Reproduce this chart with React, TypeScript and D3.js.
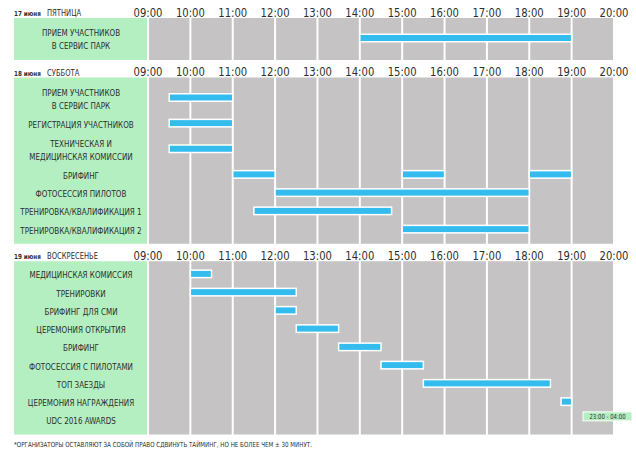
import React from "react";
import * as d3 from "d3";

const hourTicks = [9, 10, 11, 12, 13, 14, 15, 16, 17, 18, 19, 20];
const tickLabels = ["09:00", "10:00", "11:00", "12:00", "13:00", "14:00", "15:00", "16:00", "17:00", "18:00", "19:00", "20:00"];

const sectionDates = ["17 июня", "18 июня", "19 июня"];
const sectionDays = ["ПЯТНИЦА", "СУББОТА", "ВОСКРЕСЕНЬЕ"];

const fridayEvents = ["ПРИЕМ УЧАСТНИКОВ|В СЕРВИС ПАРК"];
const fridaySlots: [number, number, number][] = [[0, 14, 19]];

const saturdayEvents = [
  "ПРИЕМ УЧАСТНИКОВ|В СЕРВИС ПАРК",
  "РЕГИСТРАЦИЯ УЧАСТНИКОВ",
  "ТЕХНИЧЕСКАЯ И|МЕДИЦИНСКАЯ КОМИССИИ",
  "БРИФИНГ",
  "ФОТОСЕССИЯ ПИЛОТОВ",
  "ТРЕНИРОВКА/КВАЛИФИКАЦИЯ 1",
  "ТРЕНИРОВКА/КВАЛИФИКАЦИЯ 2",
];
const saturdaySlots: [number, number, number][] = [
  [0, 9.5, 11],
  [1, 9.5, 11],
  [2, 9.5, 11],
  [3, 11, 12],
  [3, 15, 16],
  [3, 18, 19],
  [4, 12, 18],
  [5, 11.5, 14.75],
  [6, 15, 18],
];

const sundayEvents = [
  "МЕДИЦИНСКАЯ КОМИССИЯ",
  "ТРЕНИРОВКИ",
  "БРИФИНГ ДЛЯ СМИ",
  "ЦЕРЕМОНИЯ ОТКРЫТИЯ",
  "БРИФИНГ",
  "ФОТОСЕССИЯ С ПИЛОТАМИ",
  "ТОП ЗАЕЗДЫ",
  "ЦЕРЕМОНИЯ НАГРАЖДЕНИЯ",
  "UDC 2016 AWARDS",
];
const sundaySlots: [number, number, number][] = [
  [0, 10, 10.5],
  [1, 10, 12.5],
  [2, 12, 12.5],
  [3, 12.5, 13.5],
  [4, 13.5, 14.5],
  [5, 14.5, 15.5],
  [6, 15.5, 18.5],
  [7, 18.75, 19],
];

const awardsRow = 8;
const awardsTime = "23:00 - 04:00";
const footnote = "*ОРГАНИЗАТОРЫ ОСТАВЛЯЮТ ЗА СОБОЙ ПРАВО СДВИНУТЬ ТАЙМИНГ, НО НЕ БОЛЕЕ ЧЕМ ± 30 МИНУТ.";

const W = 636;
const H = 453;
const FONT = "'DejaVu Sans Condensed', 'Liberation Sans Narrow', sans-serif";
const GREEN = "#b3efc0";
const GRAY = "#c5c3c4";
const BLUE = "#35bcee";
const TEXT = "#2e2e2e";

const ROW1 = 18.25;
const ROW2 = 33;
const PAD = 4.5;
const GAP = 17.5;
const PANEL_X = 14;
const SX = 0.84;

const sections = [
  { events: fridayEvents, slots: fridaySlots },
  { events: saturdayEvents, slots: saturdaySlots },
  { events: sundayEvents, slots: sundaySlots },
];

function NText(props: { x: number; y: number; size: number; anchor?: string; weight?: string; sx?: number; children: any }) {
  const { x, y, size, anchor = "start", weight = "normal", sx = SX, children } = props;
  return (
    <text
      transform={`translate(${x},${y}) scale(${sx},1)`}
      fontSize={size}
      fontWeight={weight}
      textAnchor={anchor}
      fill={TEXT}
    >
      {children}
    </text>
  );
}

export default function App() {
  const x = d3.scaleLinear().domain([9, 20]).range([148, 614]);

  let top = 18;
  const layout = sections.map((s) => {
    const heights = s.events.map((e) => (e.includes("|") ? ROW2 : ROW1));
    const ends = d3.cumsum(heights);
    const centers = heights.map((h, i) => top + PAD + ends[i] - h / 2);
    const height = d3.sum(heights) + 2 * PAD;
    const res = { top, height, centers };
    top = top + height + GAP;
    return res;
  });

  const labelX = (PANEL_X + x(9)) / 2;

  return (
    <svg width={W} height={H} style={{ position: "absolute", left: 0, top: 0, background: "#fff" }} fontFamily={FONT}>
      {sections.map((s, si) => {
        const L = layout[si];
        return (
          <g key={si}>
            {/* header */}
            <NText x={PANEL_X} y={L.top - 1.8} size={7} weight="bold" sx={0.9}>
              {sectionDates[si]}
            </NText>
            <NText x={PANEL_X + 33} y={L.top - 1.8} size={9}>
              {sectionDays[si]}
            </NText>
            {hourTicks.map((h, i) => (
              <NText key={h} x={x(h)} y={L.top - 1.5} size={13} anchor="middle" sx={0.86}>
                {tickLabels[i]}
              </NText>
            ))}
            {/* green panel */}
            <rect x={PANEL_X} y={L.top} width={x(9) - 1 - PANEL_X} height={L.height} fill={GREEN} />
            {/* gray columns */}
            {hourTicks.slice(0, -1).map((h) => (
              <rect key={h} x={x(h) + 1} y={L.top} width={x(h + 1) - x(h) - 2} height={L.height} fill={GRAY} />
            ))}
            {/* labels */}
            {s.events.map((e, i) => {
              const lines = e.split("|");
              const c = L.centers[i];
              return (
                <g key={i}>
                  {lines.map((ln, k) => (
                    <NText key={k} x={labelX} y={c + 3.5 + (k - (lines.length - 1) / 2) * 13} size={9.5} anchor="middle">
                      {ln}
                    </NText>
                  ))}
                </g>
              );
            })}
            {/* bars */}
            {s.slots.map(([r, a, b], i) => (
              <rect
                key={i}
                x={x(a)}
                y={L.centers[r] - 1 - 3.75}
                width={x(b) - x(a)}
                height={7.5}
                fill={BLUE}
                stroke="#ffffff"
                strokeWidth={1.5}
              />
            ))}
          </g>
        );
      })}
      {/* awards time label */}
      <g>
        <rect
          x={x(20) - 31}
          y={layout[2].centers[awardsRow] - 9}
          width={49}
          height={9}
          fill={GREEN}
          stroke="#ffffff"
          strokeWidth={1}
        />
        <NText x={x(20) - 31 + 24.5} y={layout[2].centers[awardsRow] - 2} size={7} anchor="middle" sx={0.85}>
          {awardsTime}
        </NText>
      </g>
      <text x={PANEL_X} y={447} fontSize={7} fill={TEXT} textLength={298} lengthAdjust="spacingAndGlyphs">
        {footnote}
      </text>
    </svg>
  );
}
